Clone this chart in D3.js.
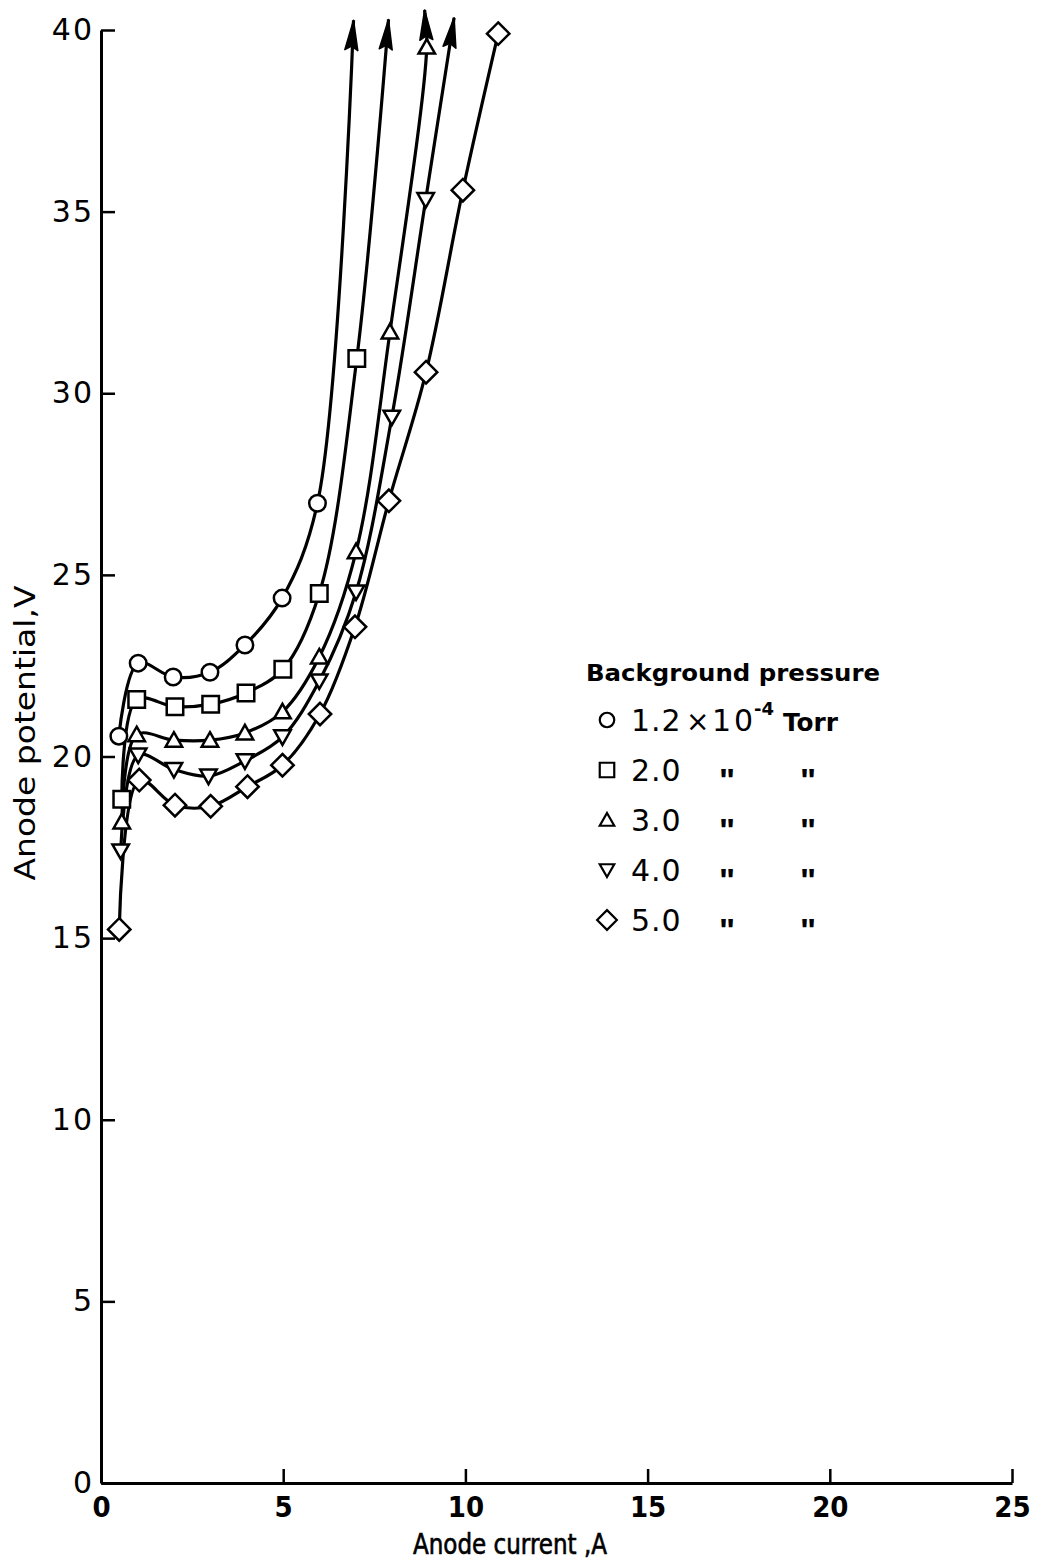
<!DOCTYPE html>
<html>
<head>
<meta charset="utf-8">
<script src="https://cdn.jsdelivr.net/npm/d3@7"></script>
<style>
  html, body { margin: 0; padding: 0; background: #fff; }
  svg { display: block; }
  text { fill: #000; font-family: "DejaVu Sans", sans-serif; }
</style>
</head>
<body>
<svg id="chart" width="1041" height="1562"></svg>
<script>
// ---------------- data ----------------
const xTicks = [0, 5, 10, 15, 20, 25];
const yTicks = [0, 5, 10, 15, 20, 25, 30, 35, 40];

const seriesNames = ["1.2", "2.0", "3.0", "4.0", "5.0"];
const seriesSymbols = ["circle", "square", "triangle", "triangleDown", "diamond"];

const current_p12 = [0.49, 1.02, 1.98, 2.99, 3.95, 4.97, 5.94];
const voltage_p12 = [20.56, 22.57, 22.19, 22.32, 23.07, 24.36, 26.97];
const arrow_p12 = [6.93, 40.27];

const current_p20 = [0.57, 0.98, 2.03, 3.01, 3.98, 4.99, 5.99, 7.02];
const voltage_p20 = [18.82, 21.57, 21.37, 21.44, 21.75, 22.40, 24.49, 30.96];
const arrow_p20 = [7.89, 40.29];

const current_p30 = [0.57, 0.98, 2.00, 2.99, 3.95, 4.98, 5.99, 7.00, 7.93, 8.94];
const voltage_p30 = [18.20, 20.60, 20.45, 20.45, 20.65, 21.23, 22.74, 25.64, 31.69, 39.53];
const arrow_p30 = [8.88, 40.55];

const current_p40 = [0.54, 1.02, 2.00, 2.95, 3.95, 4.98, 5.99, 7.00, 7.98, 8.91];
const voltage_p40 = [17.40, 20.04, 19.64, 19.46, 19.88, 20.54, 22.08, 24.53, 29.34, 35.33];
const arrow_p40 = [9.69, 40.34];

const current_p50 = [0.50, 1.05, 2.03, 3.01, 4.02, 4.98, 6.01, 6.97, 7.90, 8.92, 9.93, 10.90];
const voltage_p50 = [15.24, 19.35, 18.66, 18.63, 19.17, 19.76, 21.17, 23.57, 27.04, 30.58, 35.59, 39.90];
const arrow_p50 = null;

const currents = [current_p12, current_p20, current_p30, current_p40, current_p50];
const voltages = [voltage_p12, voltage_p20, voltage_p30, voltage_p40, voltage_p50];
const arrows = [arrow_p12, arrow_p20, arrow_p30, arrow_p40, arrow_p50];

// ---------------- layout ----------------
const svg = d3.select("#chart");
const x = d3.scaleLinear().domain([0, 25]).range([101, 1012]);
const y = d3.scaleLinear().domain([0, 40]).range([1483, 30]);

// axes
const xAxis = d3.axisBottom(x).tickValues(xTicks).tickSizeInner(-14).tickSizeOuter(0).tickPadding(13)
  .tickFormat(d3.format("d"));
const yAxis = d3.axisLeft(y).tickValues(yTicks).tickSizeInner(-14).tickSizeOuter(0).tickPadding(7)
  .tickFormat(d3.format("d"));

const gx = svg.append("g").attr("transform", `translate(0,${y(0)})`).call(xAxis);
const gy = svg.append("g").attr("transform", `translate(${x(0)},0)`).call(yAxis);

[gx, gy].forEach(g => {
  g.select(".domain").attr("stroke", "#000").attr("stroke-width", 3);
  g.selectAll(".tick line").attr("stroke", "#000").attr("stroke-width", 2.5);
  g.selectAll(".tick text").attr("fill", "#000");
});
gx.selectAll(".tick text")
  .style("font-family", "'DejaVu Sans Condensed', 'DejaVu Sans', sans-serif")
  .style("font-size", "29px").style("font-weight", "bold");
gx.selectAll(".tick").filter(d => d === 0).select("line").remove();
gy.selectAll(".tick text")
  .style("font-size", "30px").style("letter-spacing", "2px");

// axis titles
svg.append("text")
  .attr("x", 510).attr("y", 1554)
  .attr("text-anchor", "middle")
  .attr("textLength", 194).attr("lengthAdjust", "spacingAndGlyphs")
  .style("font-family", "'DejaVu Sans Condensed', 'DejaVu Sans', sans-serif")
  .style("font-size", "28px")
  .style("stroke", "#000").style("stroke-width", "0.6px")
  .text("Anode current ,A");

svg.append("text")
  .attr("transform", "translate(35,733) rotate(-90)")
  .attr("text-anchor", "middle")
  .attr("textLength", 295).attr("lengthAdjust", "spacingAndGlyphs")
  .style("font-size", "28px")
  .text("Anode potential,V");

// marker shapes
function markerPath(kind, s) {
  const p = d3.path();
  if (kind === "circle") {
    p.arc(0, 0, s / 2, 0, 2 * Math.PI);
  } else if (kind === "square") {
    p.rect(-s / 2, -s / 2, s, s);
  } else if (kind === "triangle") {
    const h = s * 0.88;
    p.moveTo(0, -h * 0.55); p.lineTo(s / 2, h * 0.45); p.lineTo(-s / 2, h * 0.45); p.closePath();
  } else if (kind === "triangleDown") {
    const h = s * 0.88;
    p.moveTo(0, h * 0.55); p.lineTo(s / 2, -h * 0.45); p.lineTo(-s / 2, -h * 0.45); p.closePath();
  } else if (kind === "diamond") {
    const r = s * 0.68;
    p.moveTo(0, -r); p.lineTo(r, 0); p.lineTo(0, r); p.lineTo(-r, 0); p.closePath();
  }
  return p.toString();
}

const line = d3.line().x(d => x(d[0])).y(d => y(d[1])).curve(d3.curveCatmullRom.alpha(0.5));

const plot = svg.append("g");
currents.forEach((cs, i) => {
  const pts = cs.map((c, j) => [c, voltages[i][j]]);
  const all = arrows[i] ? pts.concat([arrows[i]]) : pts;
  plot.append("path").datum(all)
    .attr("d", line)
    .attr("fill", "none").attr("stroke", "#000").attr("stroke-width", 3.2)
    .attr("stroke-linejoin", "round");

  if (arrows[i]) {
    const tip = arrows[i];
    const prev = pts[pts.length - 1];
    const tx = x(tip[0]), ty = y(tip[1]);
    const px = x(prev[0]), py = y(prev[1]);
    const ang = Math.atan2(ty - py, tx - px) * 180 / Math.PI;
    plot.append("path")
      .attr("d", "M0,0 L-30,-6.5 L-26,0 L-30,6.5 Z")
      .attr("transform", `translate(${tx},${ty}) rotate(${ang})`)
      .attr("fill", "#000").attr("stroke", "#000").attr("stroke-width", 1.5)
      .attr("stroke-linejoin", "round");
  }
});

currents.forEach((cs, i) => {
  const pts = cs.map((c, j) => [c, voltages[i][j]]);
  plot.selectAll(null).data(pts).enter().append("path")
    .attr("d", markerPath(seriesSymbols[i], 16.5))
    .attr("transform", d => `translate(${x(d[0])},${y(d[1])})`)
    .attr("fill", "#fff").attr("stroke", "#000").attr("stroke-width", 2.5);
});

// legend
const lg = svg.append("g");
lg.append("text").attr("x", 586).attr("y", 681)
  .attr("textLength", 294).attr("lengthAdjust", "spacingAndGlyphs")
  .style("font-size", "23px").style("font-weight", "bold")
  .text("Background pressure");

seriesNames.forEach((name, i) => {
  const base = 731 + i * 50;
  lg.append("path")
    .attr("d", markerPath(seriesSymbols[i], 14.5))
    .attr("transform", `translate(607,${base - 11})`)
    .attr("fill", "none").attr("stroke", "#000").attr("stroke-width", 2.2);
  if (i === 0) {
    lg.append("text").attr("x", 631).attr("y", base).style("font-size", "30px").style("letter-spacing", "1px").text("1.2");
    lg.append("text").attr("x", 686).attr("y", base).style("font-size", "28px").text("×");
    lg.append("text").attr("x", 712).attr("y", base).style("font-size", "30px").style("letter-spacing", "3px").text("10");
    lg.append("text").attr("x", 754).attr("y", base - 16).style("font-size", "18px").style("font-weight", "bold").text("-4");
    lg.append("text").attr("x", 783).attr("y", base)
      .attr("textLength", 55).attr("lengthAdjust", "spacingAndGlyphs")
      .style("font-size", "25px").style("font-weight", "bold").text("Torr");
  } else {
    lg.append("text").attr("x", 631).attr("y", base).style("font-size", "30px").style("letter-spacing", "1px").text(name);
    [727, 808].forEach(cx => {
      lg.append("text").attr("x", cx).attr("y", base + 11).attr("text-anchor", "middle")
        .style("font-family", "'Liberation Sans', sans-serif")
        .style("font-size", "34px").style("font-weight", "bold").text("\"");
    });
  }
});
</script>
</body>
</html>
